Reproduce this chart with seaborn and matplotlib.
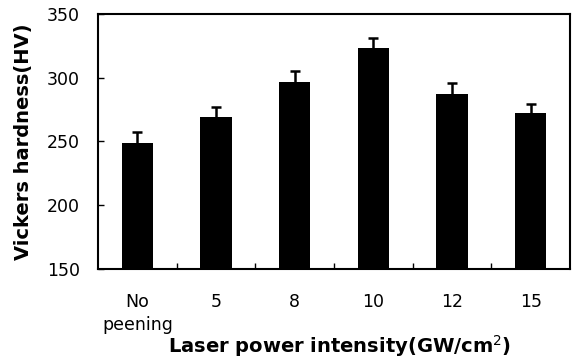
import matplotlib
matplotlib.use("Agg")
import matplotlib.pyplot as plt
import seaborn as sns
import pandas as pd
import numpy as np

categories = ["No\npeening", "5", "8", "10", "12", "15"]
hardness = [249, 269, 297, 323, 287, 272]
errors = [8.5, 8, 8.5, 8.5, 9, 7.5]

df = pd.DataFrame({"cat": categories, "hv": hardness})

sns.set_theme(style="white")
plt.rcParams['font.family'] = ['DejaVu Sans']
plt.rcParams['text.color'] = 'black'
plt.rcParams['axes.labelcolor'] = 'black'
plt.rcParams['xtick.color'] = 'black'
plt.rcParams['ytick.color'] = 'black'

fig = plt.figure(figsize=(5.73, 3.6), dpi=100)
ax = fig.add_axes([98/573, 1-269/360, (570-98)/573, (269-14)/360])

xs = np.arange(len(categories))
ax.errorbar(xs, hardness, yerr=errors, fmt="none",
            ecolor="black", elinewidth=1.8, capsize=3.5, capthick=1.8, zorder=1)
sns.barplot(data=df, x="cat", y="hv", color="black", width=0.4, ax=ax,
            saturation=1, errorbar=None, zorder=3, linewidth=0, edgecolor="black")

ax.set_ylim(150, 350)
ax.set_xlim(-0.5, len(categories) - 0.5)
ax.set_yticks([150, 200, 250, 300, 350])
ax.tick_params(axis="y", direction="in", length=4, width=1, labelsize=12.5, pad=13, left=True)
ax.tick_params(axis="x", which="major", length=0, labelsize=12.5, pad=17)
ax.set_xticks(np.arange(0.5, len(categories) - 0.5), minor=True)
ax.tick_params(axis="x", which="minor", direction="in", length=4, width=1, bottom=True)
for lab in ax.get_xticklabels():
    lab.set_linespacing(1.35)

for s in ax.spines.values():
    s.set_color("black")
    s.set_linewidth(1.5)
    s.set_zorder(5)

ax.set_xlabel("Laser power intensity(GW/cm$^{2}$)", fontsize=14, fontweight="bold")
ax.xaxis.set_label_coords((340-98)/472, (269-333)/255)
ax.set_ylabel("Vickers hardness(HV)", fontsize=14, fontweight="bold", labelpad=10)

fig.savefig("out.png", dpi=100)
